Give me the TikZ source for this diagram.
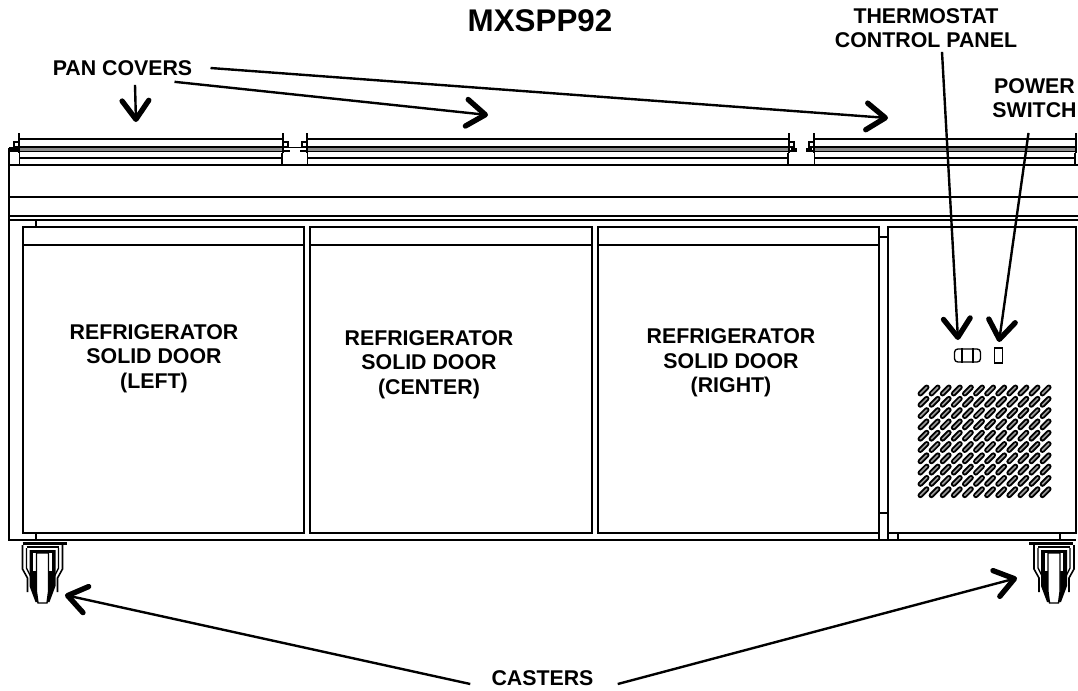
\documentclass[tikz,border=0pt]{standalone}
\usepackage{fontspec}
\setmainfont{Liberation Sans}
\usetikzlibrary{arrows.meta}
\tikzset{
  partlabel/.style={inner sep=0.75pt,align=center,font=\fontsize{16}{18.2}\selectfont\bfseries},
  callout/.style={line width=1.8pt,-{Straight Barb[length=14,width=20,line width=4pt,round]}},
  unit/.style={line width=1.05pt},
  ventslot/.style={line width=4.1pt,line cap=round,black},
  ventcore/.style={line width=1.2pt,line cap=round,black!40},
}
\begin{document}
\begin{tikzpicture}[x=0.75pt,y=0.75pt,yscale=-1,xscale=1]
        \useasboundingbox (0,0) rectangle (1078,690);
        % pan covers
        \foreach \xa/\xb in {19/283,307/789,814/1076} {
          \draw [line width=3pt,black!45] (\xa,149) -- (\xb,149) ;
          \draw [unit] (\xa,139) -- (\xb,139) ;
          \draw [unit] (\xa,147) -- (\xb,147) ;
          \draw [unit] (\xa,151.5) -- (\xb,151.5) ;
          \draw [unit] (\xa,158) -- (\xb,158) ;
          \draw [line width=1.6pt] (\xa,133) -- (\xa,153) ;
          \draw [line width=1.6pt] (\xb,133) -- (\xb,153) ;
          \draw [unit] (\xa+0.5,153) -- (\xa+0.5,165) ;
          \draw [unit] (\xb-1,153) -- (\xb-1,165) ;
        }
        % hinges
        \foreach \hx/\hd in {19/-1,283/1,307/-1,789/1,814/-1} {
          \draw [line width=1pt] (\hx,142) -- (\hx+\hd*5,142) -- (\hx+\hd*5,147) -- (\hx,147) ;
          \draw [line width=2.2pt] (\hx,151) -- (\hx+\hd*7,151) ;
        }
        \draw [line width=0.8pt] (288,147.5) -- (302,147.5) ;
        \draw [line width=3.4pt] (9,149.5) -- (19,149.5) ;
        \draw [line width=3.4pt] (791,150) -- (797,150) ;
        \draw [line width=3.4pt] (806,150) -- (812,150) ;
        % cabinet
        \draw [unit] (9,165) -- (1078,165) ;
        \draw [unit] (9,197) -- (1078,197) ;
        \draw [unit] (9,216) -- (1078,216) ;
        \draw [unit] (9,220) -- (1078,220) ;
        \draw [unit] (9,148) -- (9,540) -- (1076,540) ;
        \draw [unit] (36,220) -- (36,227) ;
        \draw [unit] (36,533) -- (36,540) ;
        \draw [unit] (898,533) -- (898,540) ;
        \draw [unit] (1060,533) -- (1060,540) ;
        \draw [unit] (879,237) -- (888,237) ;
        \draw [unit] (879,513) -- (888,513) ;
        \draw [unit] (879,533) -- (879,540) ;
        \draw [unit] (888,533) -- (888,540) ;
        % doors
        \foreach \xa/\xb in {23/304,310/592,598/879} {
          \draw [unit] (\xa,227) rectangle (\xb,533) ;
          \draw [unit] (\xa,245) -- (\xb,245) ;
        }
        \draw [unit] (888,227) rectangle (1076,533) ;
        % controls
        \draw [line width=1pt,rounded corners=2.5] (954.5,349) rectangle (980.5,362) ;
        \draw [line width=1pt] (962,348) -- (962,362.5) ;
        \draw [line width=1pt] (973,348) -- (973,362.5) ;
        \draw [line width=1pt] (994.5,348) rectangle (1002.5,363) ;
        % vent
        \foreach \row in {0,...,9} {
          \foreach \col in {0,...,11} {
            \draw [ventslot] (923.5+\col*11.1-3.2,390.5+\row*11.3+3.2) -- (923.5+\col*11.1+3.2,390.5+\row*11.3-3.2) ;
            \draw [ventcore] (923.5+\col*11.1-3.2,390.5+\row*11.3+3.2) -- (923.5+\col*11.1+3.2,390.5+\row*11.3-3.2) ;
          }
        }
        % casters
        \foreach \cx/\pl/\pr in {42.5/-20/24,1054/-25/19} {
          \begin{scope}[shift={(\cx,0)}]
            \draw [line width=1.6pt] (\pl,543.5) -- (\pr,543.5) ;
            \draw [line width=1.2pt] (-16,547) -- (16,547) ;
            \draw [line width=1.2pt] (-20,545) -- (-20,569) -- (-15,578) -- (-15,592) ;
            \draw [line width=1.2pt] (20,545) -- (20,569) -- (15,578) -- (15,592) ;
            \draw [line width=1pt] (-16,548) -- (-16,568) -- (-11,578) ;
            \draw [line width=1pt] (16,548) -- (16,568) -- (11,578) ;
            \fill (-13,550) -- (13,550) -- (13,586) -- (7,602) -- (-7,602) -- (-13,586) -- cycle ;
            \draw [line width=0.8pt,fill=white] (-10,552) -- (10,552) -- (10,572) -- (-10,572) -- cycle ;
            \draw [unit,fill=white] (-6,553) -- (6,553) -- (6,592) -- (4.5,603) -- (-4.5,603) -- (-6,592) -- cycle ;
          \end{scope}
        }
        % labels
        \node (title) [partlabel,font=\fontsize{23.5}{26}\selectfont\bfseries] at (540,21) {MXSPP92};
        \node (thermostat) [partlabel] at (926,28) {THERMOSTAT\\CONTROL PANEL};
        \node (powerswitch) [partlabel] at (1034.5,98) {POWER\\SWITCH};
        \node (pancovers) [partlabel] at (122.5,68) {PAN COVERS};
        \node (doorleft) [partlabel] at (154,358.5) {REFRIGERATOR\\SOLID DOOR\\(LEFT)};
        \node (doorcenter) [partlabel] at (429,364.5) {REFRIGERATOR\\SOLID DOOR\\(CENTER)};
        \node (doorright) [partlabel] at (731,363) {REFRIGERATOR\\SOLID DOOR\\(RIGHT)};
        \node (casters) [partlabel] at (542.5,678) {CASTERS};
        % arrow ends
        \coordinate (coverleft) at (136,122);
        \coordinate (covercenter) at (488,115);
        \coordinate (coverright) at (888,118);
        \coordinate (knob) at (958,340);
        \coordinate (switch) at (999,342);
        \coordinate (casterleft) at (65,595);
        \coordinate (casterright) at (1017,578);
        % arrows
        \draw [callout] (pancovers.south -| coverleft) ++(-1,8) -- (coverleft) ;
        \draw [callout] (pancovers.south east) ++(-19,5) -- (covercenter) ;
        \draw [callout] (pancovers.east) ++(17,0) -- (coverright) ;
        \draw [callout] (thermostat.south) ++(16,3) -- (knob) ;
        \draw [callout] (powerswitch.south) ++(-6,14) -- (switch) ;
        \draw [callout] (casters.west) ++(-20,6) -- (casterleft) ;
        \draw [callout] (casters.east) ++(23,6) -- (casterright) ;
    \end{tikzpicture}
\end{document}
